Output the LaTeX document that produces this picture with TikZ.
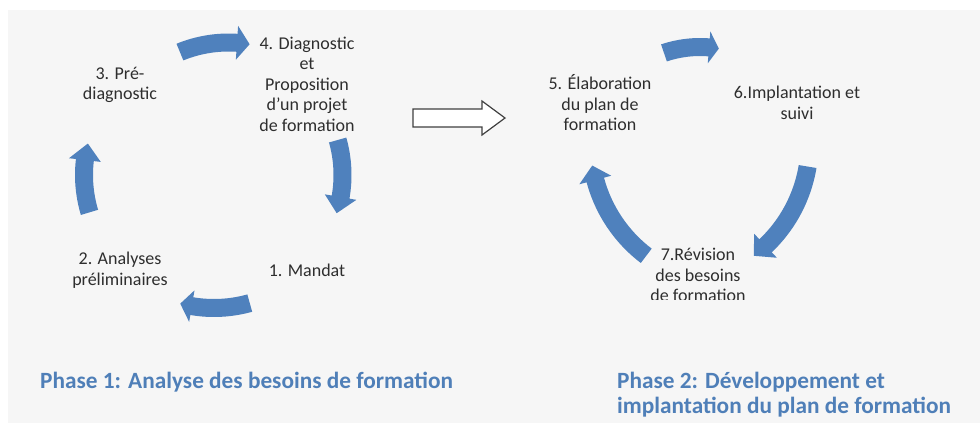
\documentclass[tikz,border=0pt]{standalone}
\usepackage{fontspec}
\setmainfont{Carlito}
\definecolor{arrowblue}{HTML}{4F81BD}
\definecolor{phaseblue}{HTML}{4F7FB8}
\definecolor{bggray}{HTML}{F6F6F6}
\definecolor{labelgray}{HTML}{2E2E2E}
\definecolor{outlinegray}{HTML}{404040}
% circular block arrow: #1 centre, #2 radius, #3 tail angle, #4 head-base angle, #5 tip angle, #6 body width, #7 head width
\newcommand\cycarrow[7]{%
  \fill[arrowblue]
    ([shift={#1}]#3:{#2+#6/2}) arc[start angle=#3, end angle=#4, radius={#2+#6/2}]
    -- ([shift={#1}]#4:{#2+#7/2})
    -- ([shift={#1}]#5:#2)
    -- ([shift={#1}]#4:{#2-#7/2})
    -- ([shift={#1}]#4:{#2-#6/2})
    arc[start angle=#4, end angle=#3, radius={#2-#6/2}] -- cycle;}
\tikzset{
  lbl/.style={text=labelgray, align=center, font=\fontsize{18}{20.5}\selectfont, inner sep=0pt},
  phase/.style={text=phaseblue, align=left, font=\bfseries\fontsize{23.3}{25}\selectfont, inner sep=0pt},
  bigarrow/.style={draw=outlinegray, fill=white, line width=1.2pt, line join=miter}
}
\begin{document}
\begin{tikzpicture}[x=1pt, y=-1pt]
  \useasboundingbox (0,0) rectangle (980,423);
  \fill[white] (0,0) rectangle (980,423);
  \fill[bggray] (8,10) rectangle (980,423);

  % centres of the arcs
  \coordinate (LC) at (214,175);
  \coordinate (LT) at (228.5,170.5);
  \coordinate (RT) at (700,160);
  \coordinate (RL) at (731.5,143.5);
  \coordinate (RR) at (668.5,143.5);

  % phase 1 cycle arrows
  \cycarrow{(LT)}{128}{-112.3}{-86.2}{-80.5}{18}{34}
  \cycarrow{(LC)}{128.5}{-15.8}{9.9}{17.3}{18}{32}
  \cycarrow{(LC)}{133}{74.4}{99.6}{104.7}{18}{32}
  \cycarrow{(LC)}{130}{163.3}{186.6}{194}{18}{32}

  % phase 2 cycle arrows
  \cycarrow{(RT)}{113}{-108.6}{-85.4}{-80.4}{18}{32}
  \cycarrow{(RR)}{141}{9.4}{46.5}{52.8}{18}{33}
  \cycarrow{(RL)}{141}{127.2}{165}{171}{18}{33}

  % outline arrow between the phases
  \draw[bigarrow] (413,109) -- (482,109) -- (482,101) -- (505,118) -- (482,135) -- (482,127) -- (413,127) -- cycle;

  % labels
  \node[lbl] (n4) at (307,84) {4. Diagnostic\\et\\Proposition\\d'un projet\\de formation};
  \node[lbl] (n3) at (120,85) {3. Pré-\\diagnostic};
  \node[lbl] (n2) at (120,270) {2. Analyses\\préliminaires};
  \node[lbl] (n1) at (307,270) {1. Mandat};
  \node[lbl] (n5) at (600,103) {5. Élaboration\\du plan de\\formation};
  \node[lbl] (n6) at (797,103) {6.Implantation et\\suivi};
  \begin{scope}
    \clip (600,230) rectangle (800,299);
    \node[lbl] (n7) at (698,275) {7.Révision\\des besoins\\de formation};
  \end{scope}

  \node[phase, anchor=west] (p1) at (40,382) {Phase 1: Analyse des besoins de formation};
  \node[phase, anchor=west] (p2) at (617,395) {Phase 2: Développement et\\implantation du plan de formation};
\end{tikzpicture}
\end{document}
